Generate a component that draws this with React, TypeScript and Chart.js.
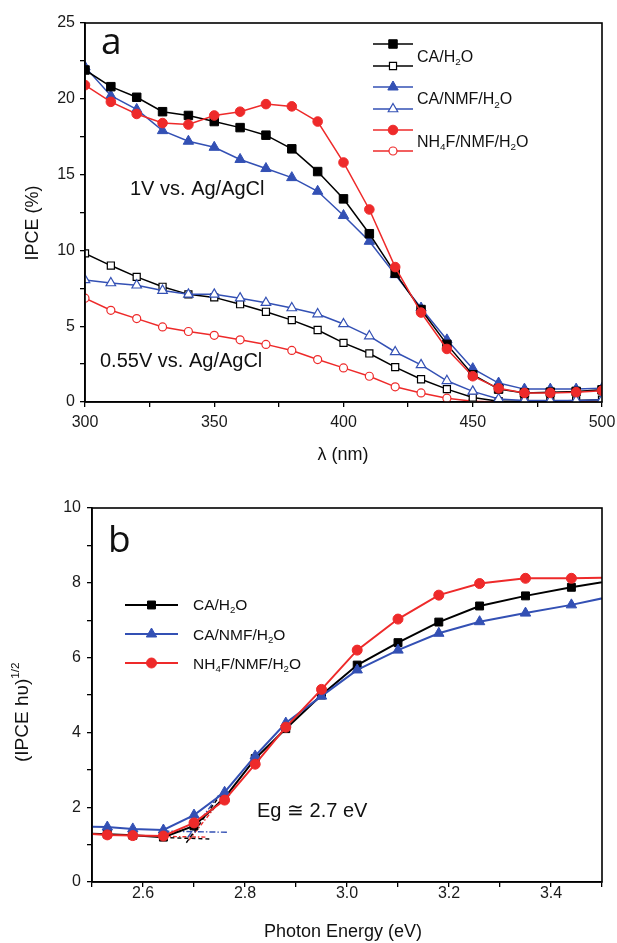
import React, { useEffect, useRef } from 'react';
import { Chart, registerables } from 'chart.js';

Chart.register(...registerables);

// ---------- Panel (a) data ----------
const wavelengths = [300, 310, 320, 330, 340, 350, 360, 370, 380, 390, 400, 410, 420, 430, 440, 450, 460, 470, 480, 490, 500];
const ca1V = [21.9, 20.8, 20.1, 19.15, 18.9, 18.5, 18.1, 17.6, 16.7, 15.2, 13.4, 11.1, 8.5, 6.1, 3.8, 1.8, 0.85, 0.6, 0.65, 0.7, 0.8];
const caNmf1V = [22.1, 20.2, 19.3, 17.9, 17.2, 16.8, 16.0, 15.4, 14.8, 13.9, 12.3, 10.6, 8.4, 6.2, 4.1, 2.2, 1.25, 0.85, 0.85, 0.85, 0.9];
const nh4f1V = [20.9, 19.8, 19.0, 18.4, 18.3, 18.9, 19.15, 19.65, 19.5, 18.5, 15.8, 12.7, 8.9, 5.9, 3.5, 1.7, 0.9, 0.6, 0.6, 0.65, 0.75];
const ca055V = [9.8, 9.0, 8.25, 7.6, 7.1, 6.9, 6.45, 5.95, 5.4, 4.75, 3.9, 3.2, 2.3, 1.5, 0.85, 0.3, 0.05, 0.05, 0.05, 0.1, 0.15];
const caNmf055V = [8.05, 7.85, 7.7, 7.35, 7.1, 7.1, 6.85, 6.55, 6.2, 5.8, 5.15, 4.35, 3.3, 2.45, 1.4, 0.7, 0.2, 0.1, 0.1, 0.1, 0.15];
const nh4f055V = [6.85, 6.05, 5.5, 4.95, 4.65, 4.4, 4.1, 3.8, 3.4, 2.8, 2.25, 1.7, 1.0, 0.6, 0.25, 0.05, 0, 0, 0, 0, 0];
const wlTicksMin = 300, wlTicksMax = 500;
const ipceMin = 0, ipceMax = 25;

// ---------- Panel (b) data ----------
const photonEnergy = [2.48, 2.53, 2.58, 2.64, 2.70, 2.76, 2.82, 2.88, 2.95, 3.02, 3.10, 3.18, 3.26, 3.35, 3.44, 3.54];
const caTauc = [1.3, 1.28, 1.25, 1.2, 1.5, 2.25, 3.3, 4.1, 5.0, 5.8, 6.4, 6.95, 7.38, 7.65, 7.88, 8.1];
const caNmfTauc = [1.48, 1.47, 1.42, 1.39, 1.79, 2.4, 3.37, 4.25, 4.97, 5.67, 6.2, 6.65, 6.96, 7.19, 7.41, 7.7];
const nh4fTauc = [1.3, 1.26, 1.24, 1.23, 1.58, 2.19, 3.15, 4.14, 5.15, 6.2, 7.03, 7.67, 7.98, 8.12, 8.12, 8.15];
// tangent (fit) lines used for Eg estimation
const caBaseFitX = [2.64, 2.73];
const caBaseFitY = [1.19, 1.15];
const caEdgeFitX = [2.685, 2.75];
const caEdgeFitY = [1.05, 2.3];
const caNmfBaseFitX = [2.64, 2.765];
const caNmfBaseFitY = [1.36, 1.33];
const caNmfEdgeFitX = [2.688, 2.75];
const caNmfEdgeFitY = [1.2, 2.35];
const nh4fBaseFitX = [2.64, 2.725];
const nh4fBaseFitY = [1.22, 1.2];
const nh4fEdgeFitX = [2.69, 2.75];
const nh4fEdgeFitY = [1.12, 2.15];
const eMin = 2.5, eMax = 3.5;
const taucMin = 0, taucMax = 10;

const BLACK = '#000000';
const BLUE = '#3350b4';
const RED = '#ee2a2a';
const FONT = "'Liberation Sans', Arial, sans-serif";

type Seg = [string, number]; // 0 normal, 1 subscript, -1 superscript

function drawRich(ctx: CanvasRenderingContext2D, segs: Seg[], x: number, y: number, size: number) {
  let cx = x;
  ctx.textBaseline = 'alphabetic';
  ctx.textAlign = 'left';
  for (const [t, k] of segs) {
    const s = k === 0 ? size : size * 0.62;
    ctx.font = `${s}px ${FONT}`;
    const dy = k === 1 ? size * 0.22 : k === -1 ? -size * 0.45 : 0;
    ctx.fillText(t, cx, y + dy);
    cx += ctx.measureText(t).width;
  }
}

function drawMarker(ctx: CanvasRenderingContext2D, style: string, x: number, y: number, r: number, fill: string, stroke: string, lw: number) {
  ctx.beginPath();
  if (style === 'rect') {
    const s = r * Math.SQRT1_2;
    ctx.rect(x - s, y - s, 2 * s, 2 * s);
  } else if (style === 'triangle') {
    ctx.moveTo(x, y - r);
    ctx.lineTo(x + r * Math.sin((2 * Math.PI) / 3), y - r * Math.cos((2 * Math.PI) / 3));
    ctx.lineTo(x + r * Math.sin((4 * Math.PI) / 3), y - r * Math.cos((4 * Math.PI) / 3));
    ctx.closePath();
  } else {
    ctx.arc(x, y, r, 0, Math.PI * 2);
  }
  ctx.fillStyle = fill;
  ctx.fill();
  ctx.lineWidth = lw;
  ctx.strokeStyle = stroke;
  ctx.stroke();
}

function series(label: string, xs: number[], ys: number[], color: string, style: string, radius: number, filled: boolean, order: number, lw: number) {
  return {
    label,
    data: xs.map((x, i) => ({ x, y: ys[i] })),
    borderColor: color,
    backgroundColor: filled ? color : '#ffffff',
    borderWidth: lw,
    pointStyle: style,
    pointRadius: radius,
    pointBorderWidth: filled ? 1 : 1.2,
    pointBackgroundColor: filled ? color : '#ffffff',
    pointBorderColor: color,
    tension: 0,
    fill: false,
    order,
  };
}

function fitLine(xs: number[], ys: number[], color: string, dash: number[]) {
  return {
    label: '',
    data: xs.map((x, i) => ({ x, y: ys[i] })),
    borderColor: color,
    borderWidth: 1.4,
    borderDash: dash,
    pointRadius: 0,
    tension: 0,
    fill: false,
    order: 5,
  };
}

function axisCommon(min: number, max: number, step: number, labelFn: (v: number) => string, tickPad: number) {
  return {
    type: 'linear' as const,
    min,
    max,
    ticks: {
      stepSize: step,
      autoSkip: false,
      maxRotation: 0,
      padding: tickPad,
      color: '#1a1a1a',
      font: { family: FONT, size: 16, lineHeight: 1 },
      callback: (v: any) => labelFn(Number(v)),
    },
    grid: { drawOnChartArea: false, drawTicks: true, tickLength: 5, color: '#000', lineWidth: 1.3 },
    border: { display: true, color: '#000', width: 1.6 },
  };
}

function fixX(h: number) {
  return (s: any) => {
    s.height = h;
    s.paddingLeft = 0;
    s.paddingRight = 0;
  };
}
function fixY(w: number) {
  return (s: any) => {
    s.width = w;
    s.paddingTop = 0;
    s.paddingBottom = 0;
  };
}

const framePlugin = {
  id: 'frame',
  afterDatasetsDraw(chart: any) {
    const { ctx, chartArea: a } = chart;
    ctx.save();
    ctx.strokeStyle = '#000';
    ctx.lineWidth = 1.6;
    ctx.strokeRect(a.left, a.top, a.right - a.left, a.bottom - a.top);
    ctx.restore();
  },
};

const panelAPlugin = {
  id: 'panelA',
  afterDraw(chart: any) {
    const ctx: CanvasRenderingContext2D = chart.ctx;
    ctx.save();
    ctx.fillStyle = '#111';
    // panel letter
    ctx.font = `37px 'Open Sans', ${FONT}`;
    ctx.textBaseline = 'alphabetic';
    ctx.textAlign = 'left';
    ctx.fillText('a', 101, 54);
    // annotations
    ctx.font = `20px ${FONT}`;
    ctx.fillText('1V vs. Ag/AgCl', 130, 195);
    ctx.fillText('0.55V vs. Ag/AgCl', 100, 367);
    // legend
    const rows: [string, string, boolean, number, number][] = [
      [BLACK, 'rect', true, 44, 6],
      [BLACK, 'rect', false, 66, 5],
      [BLUE, 'triangle', true, 87, 6],
      [BLUE, 'triangle', false, 109, 5.5],
      [RED, 'circle', true, 130, 4.8],
      [RED, 'circle', false, 151, 4],
    ];
    for (const [c, st, f, y, r] of rows) {
      ctx.beginPath();
      ctx.moveTo(373, y);
      ctx.lineTo(413, y);
      ctx.strokeStyle = c;
      ctx.lineWidth = 1.5;
      ctx.stroke();
      drawMarker(ctx, st, 393, y, r, f ? c : '#fff', c, f ? 1 : 1.2);
    }
    ctx.fillStyle = '#111';
    drawRich(ctx, [['CA/H', 0], ['2', 1], ['O', 0]], 417, 61.5, 16);
    drawRich(ctx, [['CA/NMF/H', 0], ['2', 1], ['O', 0]], 417, 104, 16);
    drawRich(ctx, [['NH', 0], ['4', 1], ['F/NMF/H', 0], ['2', 1], ['O', 0]], 417, 146.5, 16);
    // axis titles
    ctx.font = `18px ${FONT}`;
    ctx.textAlign = 'center';
    ctx.textBaseline = 'alphabetic';
    ctx.fillText('λ (nm)', 343, 460);
    ctx.translate(38, 223);
    ctx.rotate(-Math.PI / 2);
    ctx.fillText('IPCE (%)', 0, 0);
    ctx.restore();
  },
};

const panelBPlugin = {
  id: 'panelB',
  afterDraw(chart: any) {
    const ctx: CanvasRenderingContext2D = chart.ctx;
    ctx.save();
    ctx.fillStyle = '#111';
    ctx.font = `37px 'Open Sans', ${FONT}`;
    ctx.textBaseline = 'alphabetic';
    ctx.textAlign = 'left';
    ctx.fillText('b', 108, 82);
    ctx.font = `20px ${FONT}`;
    ctx.fillText('Eg ≅ 2.7 eV', 257, 347);
    const rows: [string, string, number, number][] = [
      [BLACK, 'rect', 135, 5.6],
      [BLUE, 'triangle', 164, 6],
      [RED, 'circle', 193, 5],
    ];
    for (const [c, st, y, r] of rows) {
      ctx.beginPath();
      ctx.moveTo(125, y);
      ctx.lineTo(178, y);
      ctx.strokeStyle = c;
      ctx.lineWidth = 2;
      ctx.stroke();
      drawMarker(ctx, st, 151.5, y, r, c, c, 1);
    }
    ctx.fillStyle = '#111';
    drawRich(ctx, [['CA/H', 0], ['2', 1], ['O', 0]], 193, 140, 15.5);
    drawRich(ctx, [['CA/NMF/H', 0], ['2', 1], ['O', 0]], 193, 170, 15.5);
    drawRich(ctx, [['NH', 0], ['4', 1], ['F/NMF/H', 0], ['2', 1], ['O', 0]], 193, 199, 15.5);
    // x title
    ctx.font = `18px ${FONT}`;
    ctx.textAlign = 'center';
    ctx.textBaseline = 'alphabetic';
    ctx.fillText('Photon Energy (eV)', 343, 467);
    // y title (rotated, with superscript)
    ctx.translate(28, 292);
    ctx.rotate(-Math.PI / 2);
    drawRich(ctx, [['(IPCE h\u03C5)', 0], ['1/2', -1]], 0, 0, 19);
    ctx.restore();
  },
};

function PanelA() {
  const ref = useRef<HTMLCanvasElement | null>(null);
  useEffect(() => {
    if (!ref.current) return;
    const chart = new Chart(ref.current, {
      type: 'line',
      data: {
        datasets: [
          series('CA/H2O 1V', wavelengths, ca1V, BLACK, 'rect', 6, true, 1, 1.5),
          series('CA/H2O 0.55V', wavelengths, ca055V, BLACK, 'rect', 5, false, 4, 1.5),
          series('CA/NMF/H2O 1V', wavelengths, caNmf1V, BLUE, 'triangle', 6, true, 2, 1.5),
          series('CA/NMF/H2O 0.55V', wavelengths, caNmf055V, BLUE, 'triangle', 5.5, false, 3, 1.5),
          series('NH4F/NMF/H2O 1V', wavelengths, nh4f1V, RED, 'circle', 4.8, true, 0, 1.5),
          series('NH4F/NMF/H2O 0.55V', wavelengths, nh4f055V, RED, 'circle', 4, false, 5, 1.5),
        ] as any,
      },
      options: {
        responsive: false,
        animation: false,
        events: [],
        layout: { padding: { top: 23, right: 15, left: 0, bottom: 0 } },
        plugins: { legend: { display: false }, tooltip: { enabled: false } },
        scales: {
          x: {
            ...axisCommon(wlTicksMin, wlTicksMax, 25, (v) => (Math.round(v) % 50 === 0 ? String(Math.round(v)) : ''), 7.5),
            afterFit: fixX(68),
          },
          y: {
            ...axisCommon(ipceMin, ipceMax, 2.5, (v) => (Math.abs(v % 5) < 1e-6 ? String(Math.round(v)) : ''), 5),
            afterFit: fixY(85),
          },
        } as any,
      },
      plugins: [framePlugin, panelAPlugin],
    });
    return () => chart.destroy();
  }, []);
  return <canvas ref={ref} width={617} height={470} style={{ position: 'absolute', left: 0, top: 0, width: 617, height: 470 }} />;
}

function PanelB() {
  const ref = useRef<HTMLCanvasElement | null>(null);
  useEffect(() => {
    if (!ref.current) return;
    const chart = new Chart(ref.current, {
      type: 'line',
      data: {
        datasets: [
          series('CA/H2O', photonEnergy, caTauc, BLACK, 'rect', 5.6, true, 2, 2),
          series('CA/NMF/H2O', photonEnergy, caNmfTauc, BLUE, 'triangle', 6, true, 1, 2),
          series('NH4F/NMF/H2O', photonEnergy, nh4fTauc, RED, 'circle', 5, true, 0, 2),
          fitLine(caBaseFitX, caBaseFitY, BLACK, [4, 3]),
          fitLine(caEdgeFitX, caEdgeFitY, BLACK, [4, 3]),
          fitLine(caNmfBaseFitX, caNmfBaseFitY, BLUE, [6, 2, 1.5, 2]),
          fitLine(caNmfEdgeFitX, caNmfEdgeFitY, BLUE, [6, 2, 1.5, 2]),
          fitLine(nh4fBaseFitX, nh4fBaseFitY, RED, [4, 2, 1.5, 2]),
          fitLine(nh4fEdgeFitX, nh4fEdgeFitY, RED, [4, 2, 1.5, 2]),
        ] as any,
      },
      options: {
        responsive: false,
        animation: false,
        events: [],
        layout: { padding: { top: 38, right: 15, left: 0, bottom: 0 } },
        plugins: { legend: { display: false }, tooltip: { enabled: false } },
        scales: {
          x: {
            ...axisCommon(eMin, eMax, 0.1, (v) => (Math.round(v * 10) % 2 === 0 ? v.toFixed(1) : ''), -1),
            afterFit: fixX(61),
          },
          y: {
            ...axisCommon(taucMin, taucMax, 1, (v) => (Math.round(v) % 2 === 0 ? String(Math.round(v)) : ''), 6),
            afterFit: fixY(92),
          },
        } as any,
      },
      plugins: [framePlugin, panelBPlugin],
    });
    return () => chart.destroy();
  }, []);
  return <canvas ref={ref} width={617} height={473} style={{ position: 'absolute', left: 0, top: 470, width: 617, height: 473 }} />;
}

export default function App() {
  return (
    <div style={{ position: 'absolute', left: 0, top: 0, width: 617, height: 943, background: '#fff', overflow: 'hidden' }}>
      <PanelA />
      <PanelB />
    </div>
  );
}
